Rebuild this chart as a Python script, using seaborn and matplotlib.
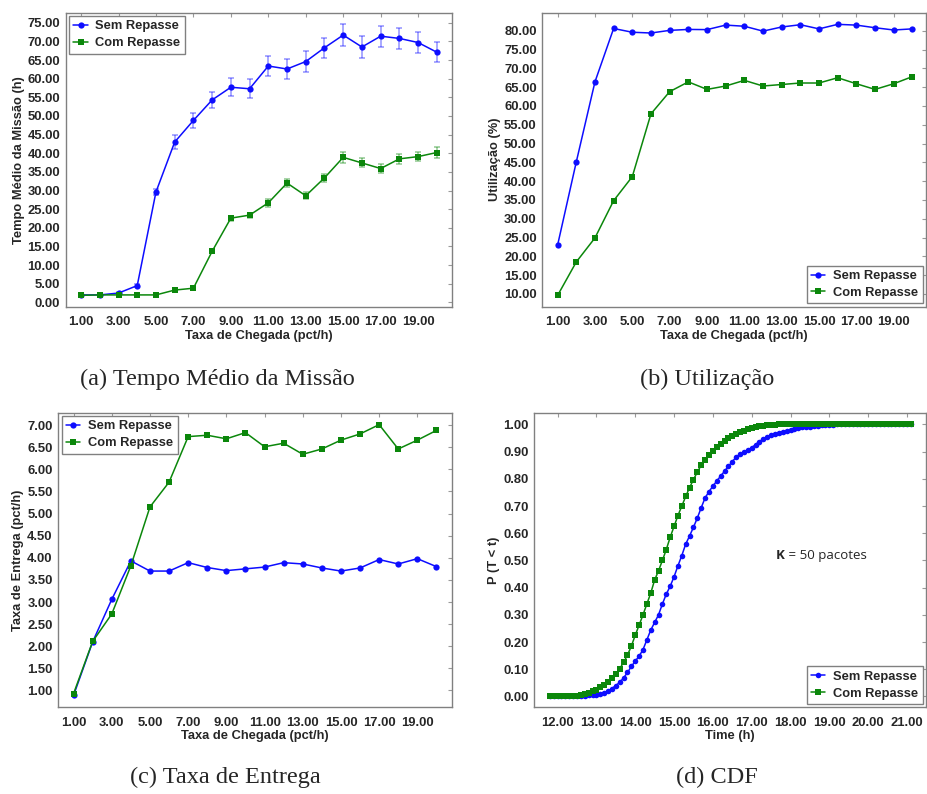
import numpy as np
import pandas as pd
import matplotlib
matplotlib.use('Agg')
import matplotlib.pyplot as plt
from matplotlib.lines import Line2D
import seaborn as sns

# taxa de chegada (pct/h)
taxa = [1, 2, 3, 4, 5, 6, 7, 8, 9, 10, 11, 12, 13, 14, 15, 16, 17, 18, 19, 20]

# (a) tempo medio da missao (h) +- erro
tempo_sem = [2.0, 2.0, 2.5, 4.5, 29.6, 43.0, 48.8, 54.3, 57.7, 57.3,
             63.4, 62.6, 64.6, 68.3, 71.7, 68.5, 71.4, 70.8, 69.7, 67.1]
tempo_sem_err = [0.2, 0.2, 0.3, 0.4, 0.9, 1.8, 2.0, 2.2, 2.4, 2.5,
                 2.6, 2.7, 2.7, 2.7, 2.9, 2.9, 2.8, 2.9, 2.7, 2.7]
tempo_com = [1.9, 2.0, 2.0, 2.0, 2.0, 3.3, 3.8, 13.7, 22.6, 23.4,
             26.7, 32.0, 28.6, 33.4, 38.9, 37.4, 35.9, 38.5, 39.1, 40.2]
tempo_com_err = [0.1, 0.1, 0.1, 0.1, 0.1, 0.2, 0.2, 0.5, 0.7, 0.7,
                 1.0, 1.0, 1.0, 1.1, 1.5, 1.2, 1.3, 1.3, 1.2, 1.4]

# (b) utilizacao (%)
util_sem = [23.0, 45.1, 66.4, 80.6, 79.6, 79.4, 80.1, 80.35, 80.3, 81.5,
            81.2, 79.9, 81.0, 81.6, 80.5, 81.7, 81.5, 80.8, 80.2, 80.5]
util_com = [9.6, 18.5, 24.9, 34.8, 41.2, 57.9, 63.8, 66.4, 64.4, 65.3,
            66.8, 65.3, 65.7, 66.1, 66.1, 67.5, 65.9, 64.4, 65.9, 67.8]

# (c) taxa de entrega (pct/h)
entrega_sem = [0.89, 2.10, 3.06, 3.93, 3.70, 3.70, 3.89, 3.78, 3.71, 3.75,
               3.79, 3.89, 3.86, 3.77, 3.70, 3.77, 3.96, 3.86, 3.98, 3.80]
entrega_com = [0.93, 2.11, 2.73, 3.82, 5.15, 5.71, 6.74, 6.77, 6.69, 6.83,
               6.51, 6.59, 6.34, 6.46, 6.66, 6.80, 7.01, 6.46, 6.66, 6.88]

# (d) CDF do tempo (h)
cdf_t = [11.8, 11.9, 12.0, 12.1, 12.2, 12.3, 12.4, 12.5, 12.6, 12.7,
         12.8, 12.9, 13.0, 13.1, 13.2, 13.3, 13.4, 13.5, 13.6, 13.7,
         13.8, 13.9, 14.0, 14.1, 14.2, 14.3, 14.4, 14.5, 14.6, 14.7,
         14.8, 14.9, 15.0, 15.1, 15.2, 15.3, 15.4, 15.5, 15.6, 15.7,
         15.8, 15.9, 16.0, 16.1, 16.2, 16.3, 16.4, 16.5, 16.6, 16.7,
         16.8, 16.9, 17.0, 17.1, 17.2, 17.3, 17.4, 17.5, 17.6, 17.7,
         17.8, 17.9, 18.0, 18.1, 18.2, 18.3, 18.4, 18.5, 18.6, 18.7,
         18.8, 18.9, 19.0, 19.1, 19.2, 19.3, 19.4, 19.5, 19.6, 19.7,
         19.8, 19.9, 20.0, 20.1, 20.2, 20.3, 20.4, 20.5, 20.6, 20.7,
         20.8, 20.9, 21.0, 21.1]
cdf_sem = [0.000, 0.000, 0.000, 0.000, 0.000, 0.000, 0.001, 0.001, 0.002, 0.003,
           0.004, 0.005, 0.007, 0.010, 0.014, 0.020, 0.029, 0.040, 0.052, 0.068,
           0.088, 0.110, 0.130, 0.148, 0.172, 0.208, 0.244, 0.272, 0.300, 0.340,
           0.376, 0.405, 0.440, 0.480, 0.518, 0.560, 0.590, 0.622, 0.656, 0.694,
           0.730, 0.753, 0.773, 0.792, 0.810, 0.828, 0.846, 0.863, 0.880, 0.891,
           0.898, 0.906, 0.914, 0.926, 0.937, 0.947, 0.955, 0.960, 0.965, 0.970,
           0.973, 0.976, 0.979, 0.982, 0.986, 0.989, 0.991, 0.992, 0.994, 0.995,
           0.996, 0.997, 0.998, 0.999, 1.000, 1.000, 1.000, 1.000, 1.000, 1.000,
           1.000, 1.000, 1.000, 1.000, 1.000, 1.000, 1.000, 1.000, 1.000, 1.000,
           1.000, 1.000, 1.000, 1.000]
cdf_com = [0.000, 0.000, 0.000, 0.000, 0.001, 0.001, 0.002, 0.003, 0.005, 0.009,
           0.013, 0.019, 0.025, 0.033, 0.042, 0.053, 0.066, 0.083, 0.102, 0.125,
           0.152, 0.185, 0.225, 0.262, 0.300, 0.340, 0.380, 0.428, 0.462, 0.500,
           0.540, 0.585, 0.625, 0.665, 0.700, 0.735, 0.768, 0.797, 0.825, 0.850,
           0.870, 0.887, 0.902, 0.916, 0.928, 0.939, 0.949, 0.957, 0.964, 0.971,
           0.977, 0.982, 0.986, 0.990, 0.993, 0.995, 0.997, 0.998, 0.999, 1.000,
           1.000, 1.000, 1.000, 1.000, 1.000, 1.000, 1.000, 1.000, 1.000, 1.000,
           1.000, 1.000, 1.000, 1.000, 1.000, 1.000, 1.000, 1.000, 1.000, 1.000,
           1.000, 1.000, 1.000, 1.000, 1.000, 1.000, 1.000, 1.000, 1.000, 1.000,
           1.000, 1.000, 1.000, 1.000]

series = ['Sem Repasse', 'Com Repasse']
cores = {'Sem Repasse': '#0d0dff', 'Com Repasse': '#0b870b'}
marcadores = {'Sem Repasse': 'o', 'Com Repasse': 's'}

sns.set_style('white')
plt.rcParams['font.family'] = ['Liberation Sans', 'DejaVu Sans']
plt.rcParams['font.weight'] = 'bold'

W, H = 928, 794
fig = plt.figure(figsize=(W / 100, H / 100), dpi=100)


def px_axes(left, top, right, bottom):
    return fig.add_axes([left / W, 1 - bottom / H, (right - left) / W, (bottom - top) / H])


def longform(x, sem, com):
    return pd.DataFrame({'x': list(x) * 2,
                         'y': list(sem) + list(com),
                         'serie': [series[0]] * len(sem) + [series[1]] * len(com)})


def painel(ax, df, xlim, ylim, yticks, xticks, xlabel, ylabel, legend_loc, ms=4.5):
    sns.lineplot(data=df, x='x', y='y', hue='serie', style='serie', palette=cores,
                 markers=marcadores, dashes=False, markersize=ms, markeredgewidth=0,
                 linewidth=1.1, errorbar=None, legend=False, ax=ax)
    ax.set_xlim(*xlim)
    ax.set_ylim(*ylim)
    ax.set_xticks(xticks)
    ax.set_yticks(yticks)
    ax.xaxis.set_major_formatter(matplotlib.ticker.FormatStrFormatter('%.2f'))
    ax.yaxis.set_major_formatter(matplotlib.ticker.FormatStrFormatter('%.2f'))
    ax.set_xlabel(xlabel, fontsize=9.3, fontweight='bold', labelpad=1)
    ax.set_ylabel(ylabel, fontsize=9.3, fontweight='bold', labelpad=2)
    ax.tick_params(direction='in', length=3, color='#9a9a9a', top=True, right=True,
                   labelsize=9.4, pad=4)
    ax.tick_params(axis='x', pad=7)
    for lab in ax.get_xticklabels() + ax.get_yticklabels():
        lab.set_fontweight('bold')
    for sp in ax.spines.values():
        sp.set_color('#808080')
        sp.set_linewidth(1.0)
    handles = [Line2D([], [], color=cores[s], marker=marcadores[s], markersize=ms,
                      markeredgewidth=0, linewidth=1.1) for s in series]
    leg = ax.legend(handles, series, loc=legend_loc, borderaxespad=0.25, fancybox=False,
                    framealpha=1, edgecolor='#808080', handlelength=1.1, handletextpad=0.6,
                    labelspacing=0.35, borderpad=0.35, prop={'weight': 'bold', 'size': 9.3})
    leg.get_frame().set_linewidth(1.0)


odd_ticks = [1, 3, 5, 7, 9, 11, 13, 15, 17, 19]
xlab = 'Taxa de Chegada (pct/h)'

# (a)
ax_a = px_axes(65.7, 12.7, 452, 306.7)
for s, y, e in [(series[0], tempo_sem, tempo_sem_err), (series[1], tempo_com, tempo_com_err)]:
    ax_a.errorbar(taxa, y, yerr=e, fmt='none', ecolor=cores[s], alpha=0.45,
                  capsize=2.5, elinewidth=1.1, capthick=1.1, zorder=1)
painel(ax_a, longform(taxa, tempo_sem, tempo_com), (0.18, 20.81), (-1.16, 77.7),
       np.arange(0, 76, 5), odd_ticks, xlab, 'Tempo Médio da Missão (h)', 'upper left')

# (b)
ax_b = px_axes(542.3, 12.7, 926, 306.7)
painel(ax_b, longform(taxa, util_sem, util_com), (0.18, 20.73), (6.6, 84.8),
       np.arange(10, 81, 5), odd_ticks, xlab, 'Utilização (%)', 'lower right')

# (c)
ax_c = px_axes(58.3, 412.7, 452.3, 707.3)
painel(ax_c, longform(taxa, entrega_sem, entrega_com), (0.2, 20.83), (0.62, 7.28),
       np.arange(1, 7.01, 0.5), odd_ticks, xlab, 'Taxa de Entrega (pct/h)', 'upper left')

# (d)
ax_d = px_axes(534.3, 412.7, 926, 707.3)
painel(ax_d, longform(cdf_t, cdf_sem, cdf_com), (11.40, 21.49), (-0.040, 1.043),
       np.arange(0, 1.01, 0.1), list(range(12, 22)), 'Time (h)', 'P (T < t)',
       'lower right', ms=4)
k = ax_d.text(17.62, 0.517, 'K', fontsize=9.5, fontweight='bold', family='Open Sans',
              va='center', ha='left')
ax_d.annotate(' = 50 pacotes', xy=(1, 0.5), xycoords=k, va='center', ha='left',
              fontsize=9.5, fontweight='normal', family='Open Sans')

# legendas das subfiguras
cap = dict(family='Liberation Serif', fontweight='normal', fontsize=17.5,
           ha='center', va='center')
fig.text(217 / W, 1 - 379 / H, '(a) Tempo Médio da Missão', **cap)
fig.text(707 / W, 1 - 379 / H, '(b) Utilização', **cap)
fig.text(225 / W, 1 - 777 / H, '(c) Taxa de Entrega', **cap)
fig.text(717 / W, 1 - 777 / H, '(d) CDF', **cap)

fig.savefig('out.png', dpi=100)
